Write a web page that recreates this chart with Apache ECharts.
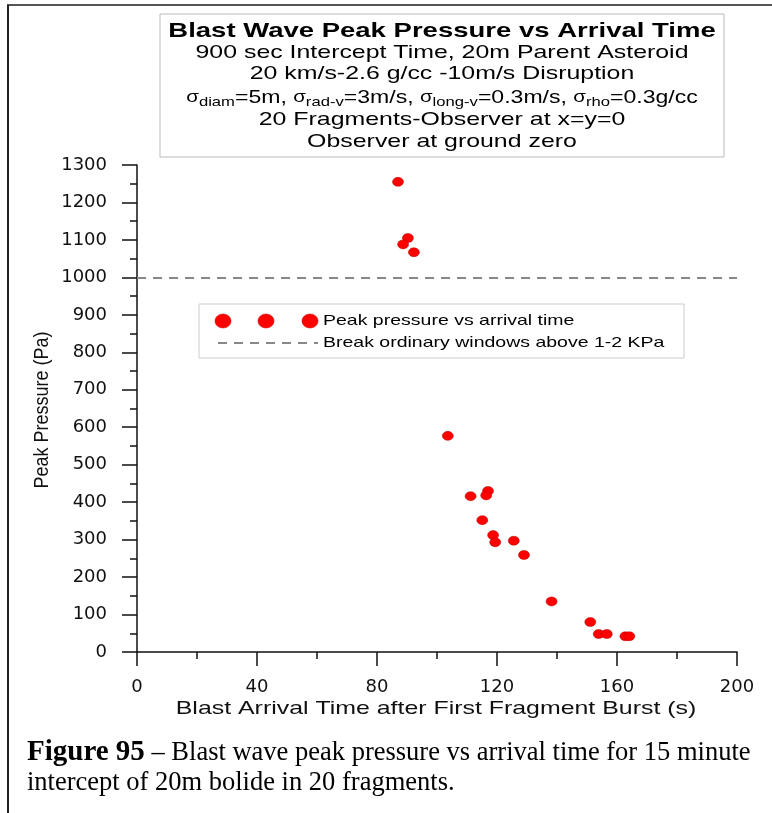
<!DOCTYPE html>
<html>
<head>
<meta charset="utf-8">
<script src="https://cdn.jsdelivr.net/npm/echarts@6/dist/echarts.min.js"></script>
<style>
html,body{margin:0;padding:0;background:#fff;}
#chart{width:772px;height:813px;}
</style>
</head>
<body>
<div id="chart"></div>
<script>
// Data: blast arrival time (s) and peak pressure (Pa)
var arrivalTime = [87, 90.3, 88.7, 92.3, 103.6, 111.2, 117, 116.4, 115.1, 118.7, 119.4, 125.6, 129, 138.2, 151.1, 153.9, 156.6, 162.8, 164.1];
var peakPressure = [1255, 1105, 1088, 1067, 577, 416, 430, 418, 352, 312, 293, 297, 259, 135, 80, 48, 48, 42, 42];
var thresholdPressure = 1000;
var xTicks = [0, 40, 80, 120, 160, 200];
var yTicks = [0, 100, 200, 300, 400, 500, 600, 700, 800, 900, 1000, 1100, 1200, 1300];

var titleLines = [
  'Blast Wave Peak Pressure vs Arrival Time',
  '900 sec Intercept Time, 20m Parent Asteroid',
  '20 km/s-2.6 g/cc -10m/s Disruption',
  '{s|σ}{sub|diam}=5m, {s|σ}{sub|rad-v}=3m/s, {s|σ}{sub|long-v}=0.3m/s, {s|σ}{sub|rho}=0.3g/cc',
  '20 Fragments-Observer at x=y=0',
  'Observer at ground zero'
];
var xAxisName = 'Blast Arrival Time after First Fragment Burst (s)';
var yAxisName = 'Peak Pressure (Pa)';
var seriesNames = ['Peak pressure vs arrival time', 'Break ordinary windows above 1-2 KPa'];

var points = arrivalTime.map(function (t, i) { return [t, peakPressure[i]]; });
var FONT = 'Liberation Sans, Arial, sans-serif';
var SERIF = 'Liberation Serif, Times New Roman, serif';
var SX = 1.31;

var chart = echarts.init(document.getElementById('chart'), null, {renderer: 'canvas'});

function line(txt, y, size, bold) {
  return {type: 'text', x: 442, y: y, scaleX: SX,
    style: {text: txt, font: (bold ? 'bold ' : '') + size + 'px ' + FONT, fill: '#000', align: 'center', verticalAlign: 'middle'}};
}

var graphics = [
  // page frame
  {type: 'line', shape: {x1: 7, y1: 5, x2: 772, y2: 5}, style: {stroke: '#555', lineWidth: 2}},
  {type: 'line', shape: {x1: 8, y1: 5, x2: 8, y2: 813}, style: {stroke: '#222', lineWidth: 2}},
  // title box
  {type: 'rect', shape: {x: 160, y: 14, width: 564, height: 143}, style: {fill: '#fff', stroke: '#bbb', lineWidth: 1}},
  line(titleLines[0], 31, 21, true),
  line(titleLines[1], 53, 19, false),
  line(titleLines[2], 74, 19, false),
  {type: 'text', x: 442, y: 98, scaleX: 1.28, style: {text: titleLines[3], fontFamily: FONT, fontSize: 18, fill: '#000', align: 'center', verticalAlign: 'middle',
    rich: {
      s: {fontFamily: FONT, fontSize: 16, fill: '#000', lineHeight: 22},
      sub: {fontFamily: FONT, fontSize: 13, fill: '#000', padding: [9, 0, 0, 0], lineHeight: 22}
    }}},
  line(titleLines[4], 120, 19, false),
  line(titleLines[5], 142, 19, false),
  // axis names
  {type: 'text', x: 436, y: 709, scaleX: SX, style: {text: xAxisName, font: '19px ' + FONT, fill: '#111', align: 'center', verticalAlign: 'middle'}},
  {type: 'text', x: 42, y: 410, rotation: Math.PI / 2, scaleY: 1.15, style: {text: yAxisName, font: '18px ' + FONT, fill: '#111', align: 'center', verticalAlign: 'middle'}},
  // legend
  {type: 'rect', z: 10, shape: {x: 199, y: 304, width: 485, height: 54}, style: {fill: '#fff', stroke: '#ccc', lineWidth: 1}},
  {type: 'ellipse', z: 11, shape: {cx: 223, cy: 321, rx: 8, ry: 7}, style: {fill: '#ff0000', stroke: '#cc0000', lineWidth: 0.5}},
  {type: 'ellipse', z: 11, shape: {cx: 266, cy: 321, rx: 8, ry: 7}, style: {fill: '#ff0000', stroke: '#cc0000', lineWidth: 0.5}},
  {type: 'ellipse', z: 11, shape: {cx: 310, cy: 321, rx: 8, ry: 7}, style: {fill: '#ff0000', stroke: '#cc0000', lineWidth: 0.5}},
  {type: 'line', z: 11, shape: {x1: 218, y1: 343, x2: 318, y2: 343}, style: {stroke: '#888', lineWidth: 2, lineDash: [9, 7]}},
  {type: 'text', z: 11, x: 323, y: 321, scaleX: 1.3, style: {text: seriesNames[0], font: '15px ' + FONT, fill: '#000', verticalAlign: 'middle'}},
  {type: 'text', z: 11, x: 323, y: 343, scaleX: 1.3, style: {text: seriesNames[1], font: '15px ' + FONT, fill: '#000', verticalAlign: 'middle'}},
  // caption
  {type: 'text', x: 27, y: 753, style: {text: '{b|Figure 95} – Blast wave peak pressure vs arrival time for 15 minute',
    fontFamily: SERIF, fontSize: 26.5, fill: '#000', verticalAlign: 'middle',
    rich: {b: {fontFamily: SERIF, fontSize: 29, fontWeight: 'bold', fill: '#000'}}}},
  {type: 'text', x: 27, y: 783, style: {text: 'intercept of 20m bolide in 20 fragments.',
    font: '26.5px ' + SERIF, fill: '#000', verticalAlign: 'middle'}}
];

var axisLabelStyle = {fontFamily: 'DejaVu Sans, sans-serif', fontSize: 18, color: '#111'};

var option = {
  backgroundColor: '#fff',
  animation: false,
  grid: {left: 137, right: 35, top: 165, bottom: 161, containLabel: false},
  xAxis: {
    type: 'value', min: xTicks[0], max: xTicks[xTicks.length - 1], interval: 40,
    axisLine: {onZero: false, lineStyle: {color: '#111', width: 1.5}},
    axisTick: {show: true, inside: false, length: 14, lineStyle: {color: '#111', width: 1.5}},
    minorTick: {show: true, splitNumber: 2, length: 7, lineStyle: {color: '#111', width: 1.5}},
    axisLabel: Object.assign({margin: 26, formatter: function (v) { return String(v); }}, axisLabelStyle),
    splitLine: {show: false}
  },
  yAxis: {
    type: 'value', min: yTicks[0], max: yTicks[yTicks.length - 1], interval: 100,
    axisLine: {show: true, onZero: false, lineStyle: {color: '#111', width: 1.5}},
    axisTick: {show: true, inside: false, length: 15, lineStyle: {color: '#111', width: 1.5}},
    minorTick: {show: true, splitNumber: 2, length: 7, lineStyle: {color: '#111', width: 1.5}},
    axisLabel: Object.assign({margin: 30, formatter: function (v) { return String(v); }}, axisLabelStyle),
    splitLine: {show: false}
  },
  graphic: graphics,
  series: [
    {
      name: seriesNames[0],
      type: 'scatter',
      data: points,
      symbol: 'circle',
      symbolSize: [11, 9],
      itemStyle: {color: '#ff0000', borderColor: '#b00000', borderWidth: 0.5, opacity: 1},
      z: 5,
      markLine: {
        silent: true,
        symbol: ['none', 'none'],
        label: {show: false},
        lineStyle: {color: '#888', width: 2, type: [9, 7]},
        data: [{yAxis: thresholdPressure, name: seriesNames[1]}]
      }
    }
  ]
};
chart.setOption(option);
</script>
</body>
</html>
